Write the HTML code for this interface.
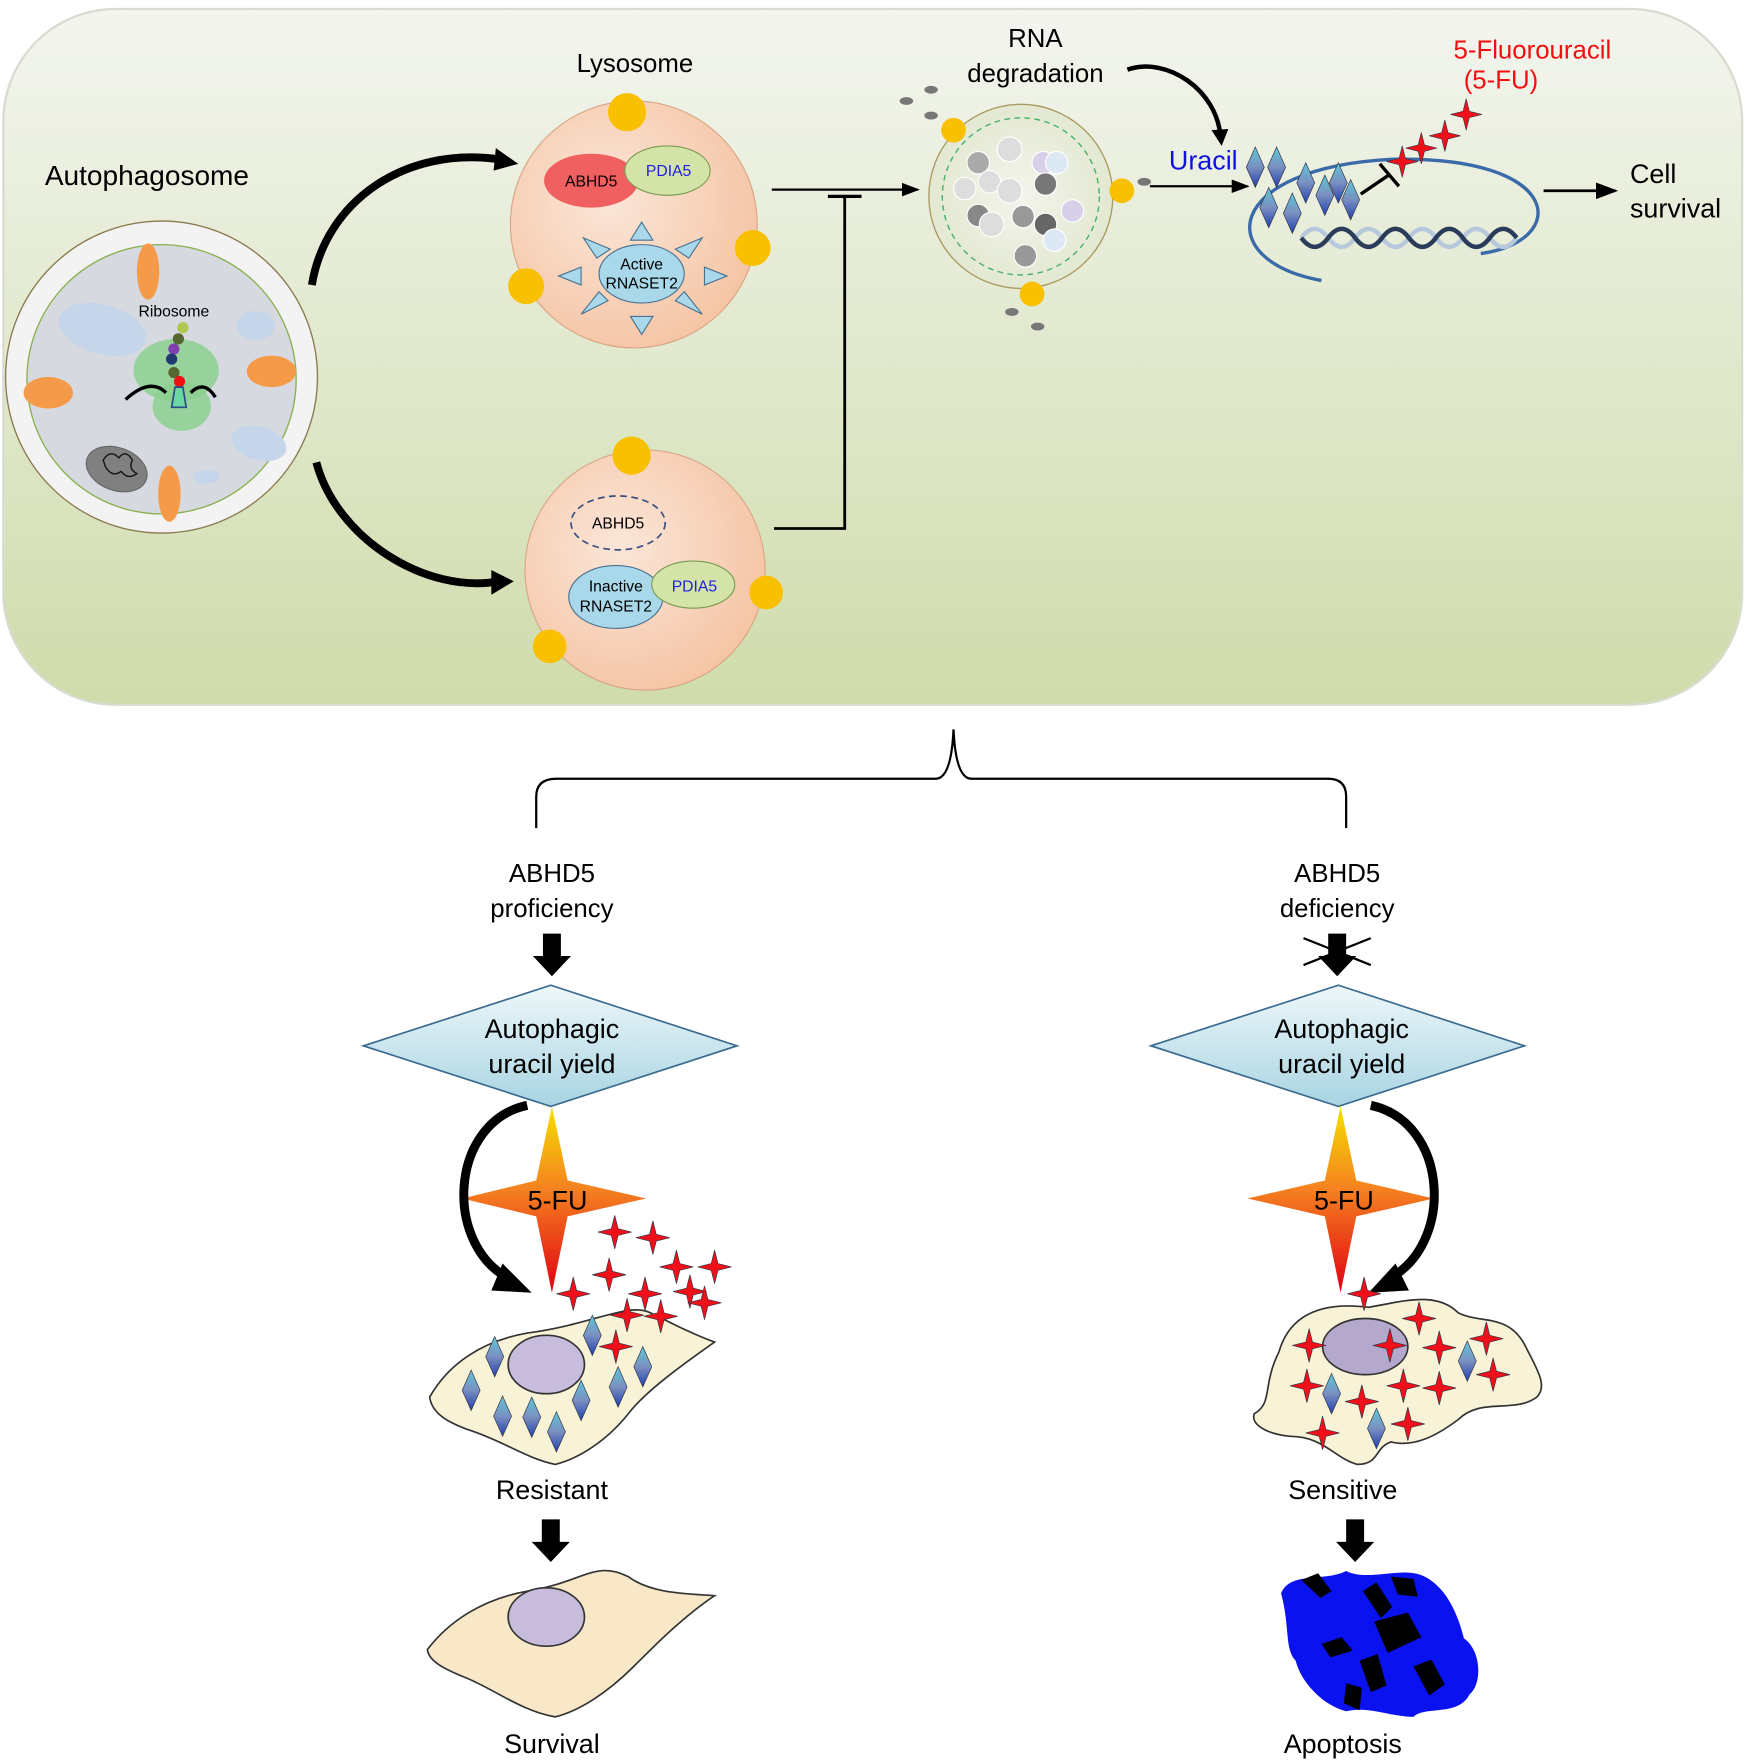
<!DOCTYPE html>
<html><head><meta charset="utf-8">
<style>html,body{margin:0;padding:0;background:#fff;}svg{display:block;}
text{font-family:"Liberation Sans",Arial,sans-serif;}</style></head>
<body>
<svg width="1750" height="1764" viewBox="0 0 1560 1572" preserveAspectRatio="none" xmlns="http://www.w3.org/2000/svg">
<defs>
<linearGradient id="bg" x1="0" y1="0" x2="0" y2="1"><stop offset="0" stop-color="#f3f5ef"/><stop offset="1" stop-color="#cfdcab"/></linearGradient>
<radialGradient id="lys" cx="0.4" cy="0.4" r="0.65"><stop offset="0" stop-color="#fbe6d8"/><stop offset="1" stop-color="#f5c4a4"/></radialGradient>
<radialGradient id="rna" cx="0.5" cy="0.5" r="0.6"><stop offset="0" stop-color="#f3f4ec"/><stop offset="1" stop-color="#dfe6cc"/></radialGradient>
<linearGradient id="dia" x1="0" y1="0" x2="0" y2="1"><stop offset="0" stop-color="#eef7fa"/><stop offset="1" stop-color="#a8d4e2"/></linearGradient>
<linearGradient id="ud" x1="0" y1="0" x2="0" y2="1"><stop offset="0" stop-color="#5ec8d8"/><stop offset="0.5" stop-color="#7a8fc0"/><stop offset="1" stop-color="#2040b0"/></linearGradient>
<linearGradient id="fu" x1="0" y1="0" x2="0" y2="1"><stop offset="0" stop-color="#f5e000"/><stop offset="0.45" stop-color="#f58020"/><stop offset="1" stop-color="#e00010"/></linearGradient>
<symbol id="u" viewBox="-8 -18 16 36" overflow="visible"><path d="M0,-18 L8,0 L0,18 L-8,0Z" fill="url(#ud)" stroke="#334" stroke-width="0.6"/></symbol>
<symbol id="s" viewBox="-15 -15 30 30" overflow="visible"><path d="M0,-15 L3,-3 L15,0 L3,3 L0,15 L-3,3 L-15,0 L-3,-3Z" fill="#f0101a" stroke="#334" stroke-width="0.6"/></symbol>
<marker id="ah" markerWidth="8" markerHeight="8" refX="7" refY="4" orient="auto"><path d="M0,1 L8,4 L0,7Z" fill="#000"/></marker>
</defs>

<rect x="3" y="8" width="1550" height="620" rx="100" fill="url(#bg)" stroke="#d8dcd0" stroke-width="2"/>

<text x="40" y="165" font-size="25">Autophagosome</text>
<circle cx="144" cy="336" r="139" fill="#f3f3f3" stroke="#8a7a50" stroke-width="1.2"/>
<circle cx="144" cy="338" r="120" fill="#d6d9df" stroke="#8ab050" stroke-width="1.2"/>
<ellipse cx="132" cy="242" rx="10" ry="25" fill="#f59a48"/>
<ellipse cx="151" cy="440" rx="10" ry="25" fill="#f59a48"/>
<ellipse cx="43" cy="350" rx="22" ry="14" fill="#f59a48"/>
<ellipse cx="242" cy="331" rx="22" ry="14" fill="#f59a48"/>
<ellipse cx="92" cy="330" rx="40" ry="22" fill="#c6d6ea" transform="rotate(15 92 330) translate(-10 -35)"/>
<ellipse cx="228" cy="290" rx="17" ry="13" fill="#c6d6ea"/>
<ellipse cx="242" cy="450" rx="25" ry="15" fill="#c6d6ea" transform="rotate(15 242 450) translate(-25 -50)"/>
<ellipse cx="206" cy="477" rx="12" ry="6" fill="#c6d6ea" transform="translate(-22 -52)"/>
<ellipse cx="104" cy="418" rx="28" ry="19" fill="#808080" stroke="#666" transform="rotate(20 104 418)"/>
<path d="M92,410 q6,-10 14,-2 q6,-8 12,2 q-4,8 4,12 q-8,6 -14,-2 q-8,6 -14,-4z" fill="none" stroke="#111" stroke-width="1.2"/>
<text x="155" y="282" font-size="14" text-anchor="middle">Ribosome</text>
<ellipse cx="157" cy="330" rx="38" ry="28" fill="#8cd090" opacity="0.85"/>
<ellipse cx="162" cy="362" rx="26" ry="22" fill="#8cd090" opacity="0.85"/>
<circle cx="163" cy="292" r="5" fill="#b0c850"/><circle cx="159" cy="302" r="5" fill="#556630"/>
<circle cx="155" cy="311" r="5" fill="#8040b0"/><circle cx="153" cy="320" r="5" fill="#203a70"/>
<circle cx="155" cy="332" r="5" fill="#556630"/><circle cx="160" cy="340" r="5" fill="#ee1010"/>
<path d="M112,356 q22,-20 36,-6 M170,350 q12,-12 22,4" fill="none" stroke="#000" stroke-width="3"/>
<path d="M156,345 h7 l3,18 h-13z" fill="#6ad8a0" stroke="#2a4a8a" stroke-width="1.5"/>

<path d="M278,254 C290,180 360,130 445,142" fill="none" stroke="#000" stroke-width="7"/>
<path d="M442,132 L462,146 L440,152Z" fill="#000"/>
<path d="M282,412 C300,480 380,530 445,518" fill="none" stroke="#000" stroke-width="7"/>
<path d="M438,508 L458,518 L438,530Z" fill="#000"/>

<text x="566" y="64" font-size="23" text-anchor="middle">Lysosome</text>
<circle cx="565" cy="200" r="110" fill="url(#lys)" stroke="#d9a585" stroke-width="1"/>
<circle cx="559" cy="100" r="17" fill="#f9c000"/>
<circle cx="671" cy="221" r="16" fill="#f9c000"/>
<circle cx="469" cy="255" r="16" fill="#f9c000"/>
<ellipse cx="527" cy="161" rx="42" ry="24" fill="#f06060"/>
<text x="527" y="166" font-size="14" text-anchor="middle">ABHD5</text>
<ellipse cx="595" cy="152" rx="38" ry="22" fill="#d4e3a8" stroke="#7a9a50"/>
<text x="596" y="157" font-size="14" text-anchor="middle" fill="#2020e0">PDIA5</text>
<g fill="#a8d8ea" stroke="#4a7090">
<path d="M572,198 l10,16 h-20z"/><path d="M572,298 l10,-16 h-20z"/>
<path d="M498,246 l20,-8 v16z"/><path d="M648,246 l-20,-8 v16z"/>
<path d="M520,212 l24,10 l-12,8z"/><path d="M626,212 l-24,10 l12,8z"/>
<path d="M518,280 l24,-12 l-8,-8z"/><path d="M626,280 l-24,-12 l8,-8z"/>
</g>
<ellipse cx="572" cy="244" rx="38" ry="26" fill="#a8d8ea" stroke="#4a7090"/>
<text x="572" y="240" font-size="14" text-anchor="middle">Active</text>
<text x="572" y="257" font-size="14" text-anchor="middle">RNASET2</text>

<circle cx="575" cy="508" r="107" fill="url(#lys)" stroke="#d9a585" stroke-width="1"/>
<circle cx="563" cy="406" r="17" fill="#f9c000"/>
<circle cx="683" cy="528" r="15" fill="#f9c000"/>
<circle cx="490" cy="576" r="15" fill="#f9c000"/>
<ellipse cx="551" cy="466" rx="42" ry="24" fill="none" stroke="#3a5080" stroke-width="1.5" stroke-dasharray="6,4"/>
<text x="551" y="471" font-size="14" text-anchor="middle">ABHD5</text>
<ellipse cx="549" cy="532" rx="42" ry="28" fill="#a8d8ea" stroke="#4a7090"/>
<text x="549" y="527" font-size="14" text-anchor="middle">Inactive</text>
<text x="549" y="545" font-size="14" text-anchor="middle">RNASET2</text>
<ellipse cx="618" cy="521" rx="37" ry="21" fill="#d4e3a8" stroke="#7a9a50"/>
<text x="619" y="527" font-size="14" text-anchor="middle" fill="#2020e0">PDIA5</text>

<line x1="688" y1="169" x2="818" y2="169" stroke="#000" stroke-width="2" marker-end="url(#ah)"/>
<path d="M690,471 H753 V175" fill="none" stroke="#000" stroke-width="2.5"/>
<line x1="738" y1="175" x2="768" y2="175" stroke="#000" stroke-width="3"/>

<text x="923" y="42" font-size="23" text-anchor="middle">RNA</text>
<text x="923" y="73" font-size="23" text-anchor="middle">degradation</text>
<circle cx="910" cy="175" r="82" fill="url(#rna)" stroke="#a89a60" stroke-width="1.2"/>
<circle cx="910" cy="175" r="70" fill="none" stroke="#40b060" stroke-width="1.2" stroke-dasharray="5,4"/>
<g stroke="#fff" stroke-width="1">
<circle cx="872" cy="145" r="10" fill="#aaa"/><circle cx="900" cy="133" r="11" fill="#ddd"/>
<circle cx="930" cy="145" r="10" fill="#d8d0e8"/><circle cx="942" cy="145" r="10" fill="#dce8f4"/>
<circle cx="882" cy="162" r="10" fill="#ddd"/><circle cx="860" cy="168" r="10" fill="#ddd"/>
<circle cx="900" cy="170" r="11" fill="#ddd"/><circle cx="932" cy="164" r="10" fill="#777"/>
<circle cx="872" cy="192" r="10" fill="#888"/><circle cx="884" cy="200" r="11" fill="#ddd"/>
<circle cx="912" cy="193" r="10" fill="#999"/><circle cx="932" cy="200" r="10" fill="#666"/>
<circle cx="956" cy="188" r="10" fill="#d8d0e8"/><circle cx="940" cy="214" r="10" fill="#dce8f4"/>
<circle cx="914" cy="228" r="10" fill="#999"/>
</g>
<circle cx="850" cy="116" r="11" fill="#f9c000"/>
<circle cx="1000" cy="170" r="11" fill="#f9c000"/>
<circle cx="920" cy="262" r="11" fill="#f9c000"/>
<g fill="#777"><ellipse cx="808" cy="90" rx="6" ry="3.5"/><ellipse cx="830" cy="80" rx="6" ry="3.5"/><ellipse cx="830" cy="103" rx="6" ry="3.5"/>
<ellipse cx="1020" cy="162" rx="6" ry="3.5"/><ellipse cx="902" cy="278" rx="6" ry="3.5"/><ellipse cx="925" cy="291" rx="6" ry="3.5"/></g>
<path d="M1005,62 C1040,50 1085,80 1088,122" fill="none" stroke="#000" stroke-width="4"/>
<path d="M1080,116 L1089,130 L1095,115Z" fill="#000"/>
<line x1="1025" y1="166" x2="1112" y2="166" stroke="#000" stroke-width="2" marker-end="url(#ah)"/>

<text x="1042" y="151" font-size="24" fill="#1010e0">Uracil</text>
<path d="M1178,250 C1080,232 1090,150 1240,142 C1395,138 1400,215 1320,226" fill="none" stroke="#3a6aa8" stroke-width="3"/>
<g stroke-width="4" fill="none">
<path d="M1160,212 q12,-16 24,0 q12,16 24,0 q12,-16 24,0 q12,16 24,0 q12,-16 24,0 q12,16 24,0 q12,-16 24,0 q12,16 24,0" stroke="#b8c8dc"/>
<path d="M1160,212 q12,16 24,0 q12,-16 24,0 q12,16 24,0 q12,-16 24,0 q12,16 24,0 q12,-16 24,0 q12,16 24,0 q12,-16 24,0" stroke="#2a3c5a"/>
</g>
<use href="#u" x="1111" y="131" width="16" height="36"/><use href="#u" x="1130" y="131" width="16" height="36"/>
<use href="#u" x="1156" y="145" width="16" height="36"/><use href="#u" x="1185" y="145" width="16" height="36"/>
<use href="#u" x="1173" y="156" width="16" height="36"/><use href="#u" x="1196" y="160" width="16" height="36"/>
<use href="#u" x="1123" y="167" width="16" height="36"/><use href="#u" x="1144" y="172" width="16" height="36"/>
<path d="M1213,173 L1238,156 M1230,146 L1247,166" stroke="#000" stroke-width="3"/>
<use href="#s" x="1236" y="130" width="28" height="28"/><use href="#s" x="1253" y="118" width="28" height="28"/>
<use href="#s" x="1274" y="107" width="28" height="28"/><use href="#s" x="1293" y="88" width="28" height="28"/>
<text x="1366" y="52" font-size="23" text-anchor="middle" fill="#f01010">5-Fluorouracil</text>
<text x="1338" y="79" font-size="23" text-anchor="middle" fill="#f01010">(5-FU)</text>
<line x1="1376" y1="170" x2="1440" y2="170" stroke="#000" stroke-width="2.5" marker-end="url(#ah)"/>
<text x="1453" y="163" font-size="24">Cell</text>
<text x="1453" y="194" font-size="24">survival</text>

<path d="M478,738 V710 Q478,694 496,694 H834 Q848,694 850,650 Q852,694 866,694 H1184 Q1200,694 1200,710 V738" fill="none" stroke="#000" stroke-width="2"/>

<text x="492" y="786" font-size="23" text-anchor="middle">ABHD5</text>
<text x="492" y="817" font-size="23" text-anchor="middle">proficiency</text>
<path d="M484,832 h16 v20 h9 l-17,18 l-17,-18 h9z" fill="#000"/>
<path d="M324,932 L491,878 L657,932 L491,986Z" fill="url(#dia)" stroke="#3a6a90" stroke-width="1.5"/>
<text x="492" y="925" font-size="24" text-anchor="middle">Autophagic</text>
<text x="492" y="956" font-size="24" text-anchor="middle">uracil yield</text>
<path d="M492,986 L506,1052 L576,1068 L506,1084 L492,1152 L478,1084 L412,1068 L478,1052Z" fill="url(#fu)"/>
<text x="497" y="1078" font-size="24" text-anchor="middle">5-FU</text>
<path d="M470,985 C400,1000 395,1110 455,1140" fill="none" stroke="#000" stroke-width="8"/>
<path d="M448,1126 L474,1152 L438,1150Z" fill="#000"/>
<path d="M383,1245 C400,1215 430,1195 470,1188 C530,1180 560,1160 580,1170 C600,1180 620,1190 637,1196 C610,1215 575,1240 560,1260 C540,1285 515,1300 495,1305 C470,1300 450,1285 420,1275 C400,1268 385,1260 383,1245Z" fill="#f8f2d6" stroke="#333" stroke-width="1.5"/>
<ellipse cx="487" cy="1216" rx="34" ry="26" fill="#c8bcdc" stroke="#333" stroke-width="1.5"/>
<g>
<use href="#u" x="433" y="1191" width="16" height="36"/><use href="#u" x="520" y="1172" width="16" height="36"/>
<use href="#u" x="565" y="1200" width="16" height="36"/><use href="#u" x="412" y="1221" width="16" height="36"/>
<use href="#u" x="440" y="1244" width="16" height="36"/><use href="#u" x="466" y="1245" width="16" height="36"/>
<use href="#u" x="510" y="1230" width="16" height="36"/><use href="#u" x="543" y="1218" width="16" height="36"/>
<use href="#u" x="488" y="1258" width="16" height="36"/>
</g>
<g>
<use href="#s" x="533" y="1083" width="30" height="30"/><use href="#s" x="567" y="1088" width="30" height="30"/>
<use href="#s" x="528" y="1121" width="30" height="30"/><use href="#s" x="588" y="1114" width="30" height="30"/>
<use href="#s" x="622" y="1114" width="30" height="30"/><use href="#s" x="496" y="1138" width="30" height="30"/>
<use href="#s" x="560" y="1138" width="30" height="30"/><use href="#s" x="600" y="1136" width="30" height="30"/>
<use href="#s" x="613" y="1146" width="30" height="30"/><use href="#s" x="544" y="1157" width="30" height="30"/>
<use href="#s" x="574" y="1158" width="30" height="30"/><use href="#s" x="534" y="1185" width="30" height="30"/>
</g>
<text x="492" y="1336" font-size="24" text-anchor="middle">Resistant</text>
<path d="M483,1354 h16 v20 h9 l-17,18 l-17,-18 h9z" fill="#000"/>
<path d="M381,1470 C400,1445 430,1425 470,1418 C520,1410 530,1390 560,1405 C580,1420 610,1420 637,1422 C610,1440 585,1465 565,1485 C540,1510 515,1525 495,1530 C465,1525 440,1505 415,1495 C395,1487 382,1480 381,1470Z" fill="#f8e8c8" stroke="#333" stroke-width="1.5"/>
<ellipse cx="487" cy="1441" rx="34" ry="26" fill="#c8bcdc" stroke="#333" stroke-width="1.5"/>
<text x="492" y="1562" font-size="24" text-anchor="middle">Survival</text>

<text x="1192" y="786" font-size="23" text-anchor="middle">ABHD5</text>
<text x="1192" y="817" font-size="23" text-anchor="middle">deficiency</text>
<path d="M1184,832 h16 v20 h9 l-17,18 l-17,-18 h9z" fill="#000"/>
<path d="M1162,836 L1222,860 M1162,860 L1222,836" stroke="#000" stroke-width="2"/>
<path d="M1026,932 L1193,878 L1359,932 L1193,986Z" fill="url(#dia)" stroke="#3a6a90" stroke-width="1.5"/>
<text x="1196" y="925" font-size="24" text-anchor="middle">Autophagic</text>
<text x="1196" y="956" font-size="24" text-anchor="middle">uracil yield</text>
<path d="M1195,986 L1209,1052 L1278,1068 L1209,1084 L1195,1152 L1181,1084 L1112,1068 L1181,1052Z" fill="url(#fu)"/>
<text x="1198" y="1078" font-size="24" text-anchor="middle">5-FU</text>
<path d="M1222,985 C1292,1000 1297,1110 1237,1140" fill="none" stroke="#000" stroke-width="8"/>
<path d="M1244,1126 L1220,1152 L1256,1150Z" fill="#000"/>
<path d="M1140,1205 C1150,1170 1180,1160 1220,1165 C1250,1160 1280,1150 1300,1170 C1320,1180 1345,1170 1360,1200 C1370,1220 1380,1235 1370,1245 C1350,1260 1320,1245 1300,1265 C1280,1280 1260,1290 1240,1285 C1225,1290 1230,1305 1210,1305 C1190,1300 1180,1280 1150,1280 C1130,1278 1115,1270 1118,1260 C1135,1250 1125,1235 1140,1205Z" fill="#f8f2d6" stroke="#333" stroke-width="1.5"/>
<ellipse cx="1217" cy="1200" rx="38" ry="25" fill="#b4a8cc" stroke="#333" stroke-width="1.5"/>
<use href="#u" x="1179" y="1224" width="16" height="36"/><use href="#u" x="1219" y="1255" width="16" height="36"/>
<use href="#u" x="1300" y="1195" width="16" height="36"/>
<g>
<use href="#s" x="1201" y="1138" width="30" height="30"/><use href="#s" x="1250" y="1160" width="30" height="30"/>
<use href="#s" x="1152" y="1184" width="30" height="30"/><use href="#s" x="1224" y="1184" width="30" height="30"/>
<use href="#s" x="1268" y="1186" width="30" height="30"/><use href="#s" x="1310" y="1178" width="30" height="30"/>
<use href="#s" x="1150" y="1220" width="30" height="30"/><use href="#s" x="1236" y="1220" width="30" height="30"/>
<use href="#s" x="1268" y="1222" width="30" height="30"/><use href="#s" x="1316" y="1210" width="30" height="30"/>
<use href="#s" x="1199" y="1234" width="30" height="30"/><use href="#s" x="1240" y="1254" width="30" height="30"/>
<use href="#s" x="1164" y="1262" width="30" height="30"/>
</g>
<text x="1197" y="1336" font-size="24" text-anchor="middle">Sensitive</text>
<path d="M1200,1354 h16 v20 h9 l-17,18 l-17,-18 h9z" fill="#000"/>
<path d="M1142,1420 C1150,1400 1180,1410 1200,1400 C1220,1410 1250,1395 1270,1405 C1290,1415 1300,1440 1305,1460 C1320,1470 1322,1500 1310,1510 C1300,1530 1270,1520 1260,1530 C1240,1530 1220,1520 1200,1525 C1180,1520 1160,1500 1155,1480 C1145,1470 1150,1450 1142,1420Z" fill="#0a12f0"/>
<g fill="#000">
<path d="M1160,1408 l15,-6 l12,16 l-10,6z"/><path d="M1215,1418 l12,-8 l14,22 l-10,10z"/>
<path d="M1240,1405 l20,2 l4,16 l-18,-2z"/><path d="M1178,1465 l18,-6 l10,12 l-20,6z"/>
<path d="M1225,1445 l30,-8 l12,22 l-30,14z"/><path d="M1212,1480 l16,-6 l8,28 l-14,6z"/>
<path d="M1260,1485 l16,-6 l12,22 l-14,10z"/><path d="M1200,1500 l14,4 l-2,20 l-14,-6z"/>
</g>
<text x="1197" y="1562" font-size="24" text-anchor="middle">Apoptosis</text>
</svg>
</body></html>
